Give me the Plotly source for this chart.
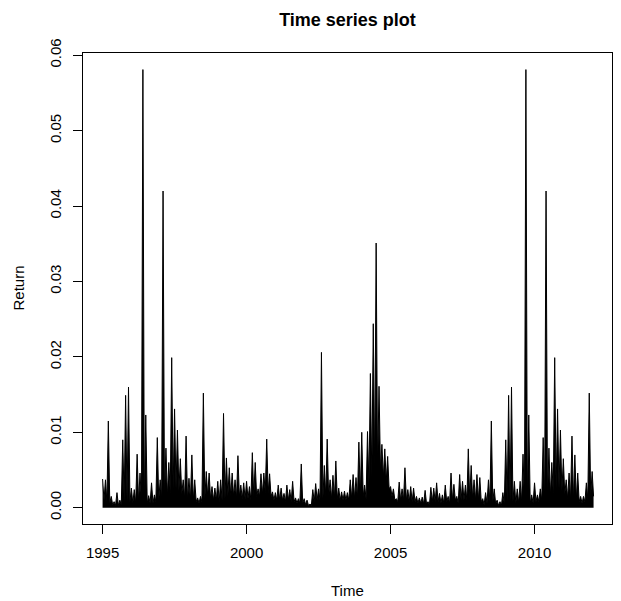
import numpy as np
import plotly.graph_objects as go

# Series sampled every 0.1 year starting 1995.0
start_year = 1995.0
step = 0.1

# Local maxima of the return in each 0.1-year window
peak_returns = [
    0.0038, 0.0037, 0.0115, 0.0015, 0.0008, 0.0020, 0.0010, 0.0090, 0.0149, 0.0160,
    0.0026, 0.0024, 0.0071, 0.0046, 0.0581, 0.0123, 0.0016, 0.0033, 0.0017, 0.0093,
    0.0037, 0.0420, 0.0079, 0.0060, 0.0199, 0.0131, 0.0103, 0.0065, 0.0037, 0.0095,
    0.0039, 0.0070, 0.0037, 0.0013, 0.0015, 0.0152, 0.0048, 0.0046, 0.0028, 0.0026,
    0.0035, 0.0037, 0.0125, 0.0066, 0.0053, 0.0046, 0.0037, 0.0069, 0.0030, 0.0033,
    0.0035, 0.0028, 0.0073, 0.0060, 0.0025, 0.0045, 0.0046, 0.0091, 0.0045, 0.0021,
    0.0020, 0.0030, 0.0026, 0.0019, 0.0030, 0.0024, 0.0035, 0.0013, 0.0012, 0.0058,
    0.0012, 0.0010, 0.0005, 0.0024, 0.0032, 0.0025, 0.0206, 0.0056, 0.0091, 0.0037,
    0.0043, 0.0062, 0.0026, 0.0021, 0.0022, 0.0020, 0.0037, 0.0044, 0.0040, 0.0087,
    0.0100, 0.0030, 0.0101, 0.0178, 0.0244, 0.0351, 0.0161, 0.0084, 0.0078, 0.0068,
    0.0028, 0.0025, 0.0012, 0.0034, 0.0025, 0.0053, 0.0024, 0.0028, 0.0026, 0.0015,
    0.0013, 0.0014, 0.0023, 0.0008, 0.0027, 0.0026, 0.0033, 0.0019, 0.0017, 0.0030,
    0.0015, 0.0046, 0.0031, 0.0015, 0.0044, 0.0035, 0.0030, 0.0078, 0.0056, 0.0037,
    0.0044, 0.0040, 0.0012, 0.0020, 0.0037, 0.0115, 0.0025, 0.0010, 0.0008, 0.0020,
    0.0090, 0.0149, 0.0160, 0.0035, 0.0025, 0.0035, 0.0071, 0.0581, 0.0123, 0.0017,
    0.0033, 0.0017, 0.0025, 0.0093, 0.0420, 0.0079, 0.0060, 0.0199, 0.0131, 0.0103,
    0.0065, 0.0037, 0.0046, 0.0095, 0.0070, 0.0046, 0.0015, 0.0015, 0.0033, 0.0152,
    0.0048,
]

# Local minima reached between consecutive maxima
trough_returns = [
    0.0010, 0.0008, 0.0006, 0.0004, 0.0003, 0.0003, 0.0004, 0.0008, 0.0008, 0.0008,
    0.0006, 0.0006, 0.0008, 0.0008, 0.0006, 0.0006, 0.0006, 0.0006, 0.0008, 0.0010,
    0.0012, 0.0012, 0.0015, 0.0020, 0.0025, 0.0025, 0.0022, 0.0018, 0.0012, 0.0010,
    0.0010, 0.0010, 0.0008, 0.0006, 0.0008, 0.0012, 0.0015, 0.0012, 0.0010, 0.0010,
    0.0008, 0.0010, 0.0012, 0.0015, 0.0015, 0.0015, 0.0012, 0.0015, 0.0012, 0.0012,
    0.0012, 0.0010, 0.0015, 0.0015, 0.0015, 0.0018, 0.0020, 0.0020, 0.0015, 0.0010,
    0.0010, 0.0010, 0.0010, 0.0008, 0.0010, 0.0008, 0.0008, 0.0006, 0.0006, 0.0006,
    0.0004, 0.0003, 0.0003, 0.0008, 0.0010, 0.0010, 0.0012, 0.0015, 0.0015, 0.0012,
    0.0012, 0.0012, 0.0010, 0.0010, 0.0010, 0.0010, 0.0012, 0.0012, 0.0012, 0.0015,
    0.0015, 0.0012, 0.0030, 0.0040, 0.0050, 0.0050, 0.0050, 0.0040, 0.0035, 0.0025,
    0.0015, 0.0010, 0.0008, 0.0010, 0.0010, 0.0010, 0.0008, 0.0008, 0.0008, 0.0006,
    0.0006, 0.0005, 0.0005, 0.0004, 0.0008, 0.0008, 0.0008, 0.0006, 0.0006, 0.0008,
    0.0006, 0.0010, 0.0010, 0.0006, 0.0010, 0.0010, 0.0010, 0.0012, 0.0012, 0.0010,
    0.0010, 0.0008, 0.0004, 0.0006, 0.0008, 0.0008, 0.0005, 0.0003, 0.0003, 0.0005,
    0.0008, 0.0008, 0.0008, 0.0006, 0.0006, 0.0008, 0.0008, 0.0008, 0.0006, 0.0006,
    0.0008, 0.0008, 0.0010, 0.0010, 0.0012, 0.0015, 0.0020, 0.0025, 0.0025, 0.0022,
    0.0018, 0.0012, 0.0010, 0.0010, 0.0010, 0.0008, 0.0006, 0.0008, 0.0012, 0.0015,
    0.0015,
]

x_tick_values = [1995, 2000, 2005, 2010]
y_tick_values = [0.00, 0.01, 0.02, 0.03, 0.04, 0.05, 0.06]

n = len(peak_returns)
peak_t = start_year + step * np.arange(n)
trough_t = peak_t + step / 2

t = np.empty(2 * n)
r = np.empty(2 * n)
t[0::2], t[1::2] = peak_t, trough_t
r[0::2], r[1::2] = peak_returns, trough_returns

FONT = "Liberation Sans, Arial, Helvetica, sans-serif"

fig = go.Figure(
    go.Scatter(
        x=t, y=r, mode="lines",
        line=dict(color="black", width=1),
        fill="tozeroy", fillcolor="black",
        hoverinfo="x+y", showlegend=False,
    )
)

axis_common = dict(
    showgrid=False, zeroline=False,
    showline=True, mirror=True, linecolor="black", linewidth=1,
    ticks="outside", ticklen=9, tickwidth=1, tickcolor="black",
    tickfont=dict(family=FONT, size=15, color="black"),
)

fig.update_layout(
    width=621, height=601,
    margin=dict(l=83, r=9, t=53, b=77),
    paper_bgcolor="white", plot_bgcolor="white",
    font=dict(family=FONT, size=15, color="black"),
    title=dict(
        text="<b>Time series plot</b>",
        x=(83 + 612) / 2 / 621, xanchor="center",
        y=1 - 20 / 601, yanchor="middle", yref="container",
        font=dict(family=FONT, size=18, color="black"),
    ),
    xaxis=dict(
        range=[1994.32, 2012.69], tickvals=x_tick_values,
        ticktext=[str(v) for v in x_tick_values],
        ticklabelstandoff=6,
        **axis_common,
    ),
    yaxis=dict(
        range=[-0.00216, 0.0603], tickvals=y_tick_values,
        ticktext=[f"{v:.2f}" for v in y_tick_values],
        tickangle=-90, ticklabelstandoff=6,
        **axis_common,
    ),
    annotations=[
        dict(text="Time", xref="paper", yref="paper",
             x=0.5, y=0, yshift=-66, xanchor="center", yanchor="middle",
             showarrow=False, font=dict(family=FONT, size=15)),
        dict(text="Return", xref="paper", yref="paper",
             x=0, y=0.5, xshift=-65, xanchor="center", yanchor="middle",
             textangle=-90, showarrow=False, font=dict(family=FONT, size=15)),
    ],
)

fig.write_html("out.html")
